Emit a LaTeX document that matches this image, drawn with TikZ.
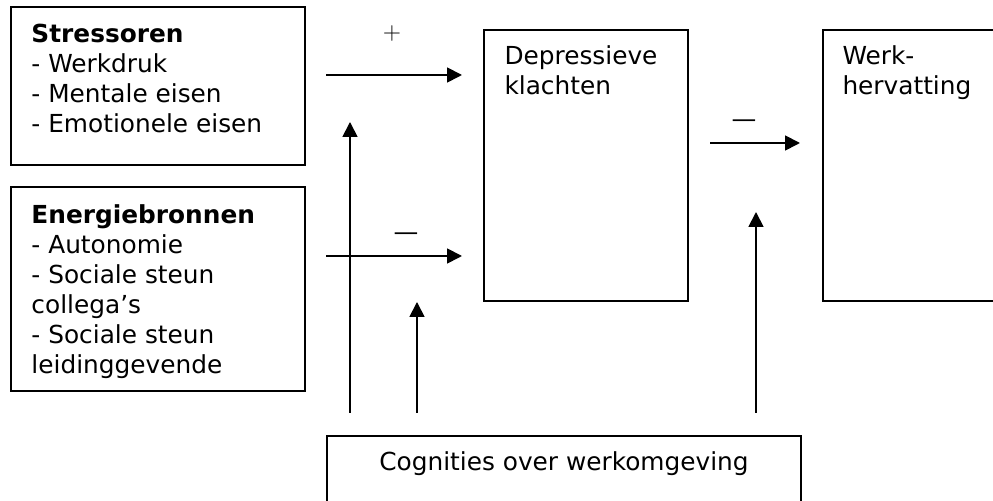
\documentclass[tikz,border=0pt]{standalone}
\usepackage[no-math]{fontspec}
\setmainfont{DejaVu Sans}
\usetikzlibrary{
  arrows.meta
  , calc
  , positioning
}

\begin{document}
\begin{tikzpicture}[x=0.5pt,y=-0.5pt,
    font=\fontsize{12.4}{15}\selectfont,
    box/.style={draw=black, line width=0.9pt, inner sep=0pt},
    boxtext/.style={anchor=north west, align=left, inner sep=0pt},
    teken/.style={inner sep=0pt},
    pijl/.style={-{Triangle[length=7.5pt,width=7.5pt]}, line width=0.9pt}
  ]
  \useasboundingbox (0,0) rectangle (993,501);

  % vakken
  \node [box, minimum width=147pt, minimum height=79pt] (stress) at (158,86) {};
  \node [box, minimum width=147pt, minimum height=102pt] (energie) at (158,289) {};
  \node [box, minimum width=102pt, minimum height=135.5pt] (depr) at (586,165.5) {};
  \node [box, minimum width=102pt, minimum height=135.5pt] (werk) at (925,165.5) {};
  \node [box, minimum width=237pt, minimum height=40pt] (cogn) at (564,476) {};

  % teksten
  \node [boxtext] (stresstxt) at ($(stress.north west)+(21,18)$)
    {\textbf{Stressoren}\\- Werkdruk\\- Mentale eisen\\- Emotionele eisen};
  \node [boxtext] (energietxt) at ($(energie.north west)+(21,18)$)
    {\textbf{Energiebronnen}\\- Autonomie\\- Sociale steun\\collega’s\\- Sociale steun\\leidinggevende};
  \node [boxtext] (deprtxt) at ($(depr.north west)+(21,16)$)
    {Depressieve\\klachten};
  \node [boxtext] (werktxt) at ($(werk.north west)+(20,16)$)
    {Werk-\\hervatting};
  \node [anchor=base, inner sep=0pt] (cogntxt) at ($(cogn.north)+(0,35)$)
    {Cognities over werkomgeving};

  % pijlen
  \coordinate (s1) at (326,75);
  \coordinate (s2) at (462,75);
  \coordinate (e1) at (326,256);
  \coordinate (e2) at (462,256);
  \coordinate (d1) at (710,143);
  \coordinate (d2) at (800,143);
  \coordinate (c1) at (350,413);
  \coordinate (t1) at (350,122);
  \coordinate (c2) at (417,413);
  \coordinate (t2) at (417,302);
  \coordinate (c3) at (756,413);
  \coordinate (t3) at (756,212);

  \draw [pijl] (s1) -- (s2);
  \draw [pijl] (e1) -- (e2);
  \draw [pijl] (d1) -- (d2);
  \draw [pijl] (c1) -- (t1);
  \draw [pijl] (c2) -- (t2);
  \draw [pijl] (c3) -- (t3);

  \node [teken] (plus) at (392,34) {$+$};
  \node [teken] (min1) at (406,237) {—};
  \node [teken] (min2) at (744,124) {—};
\end{tikzpicture}
\end{document}
